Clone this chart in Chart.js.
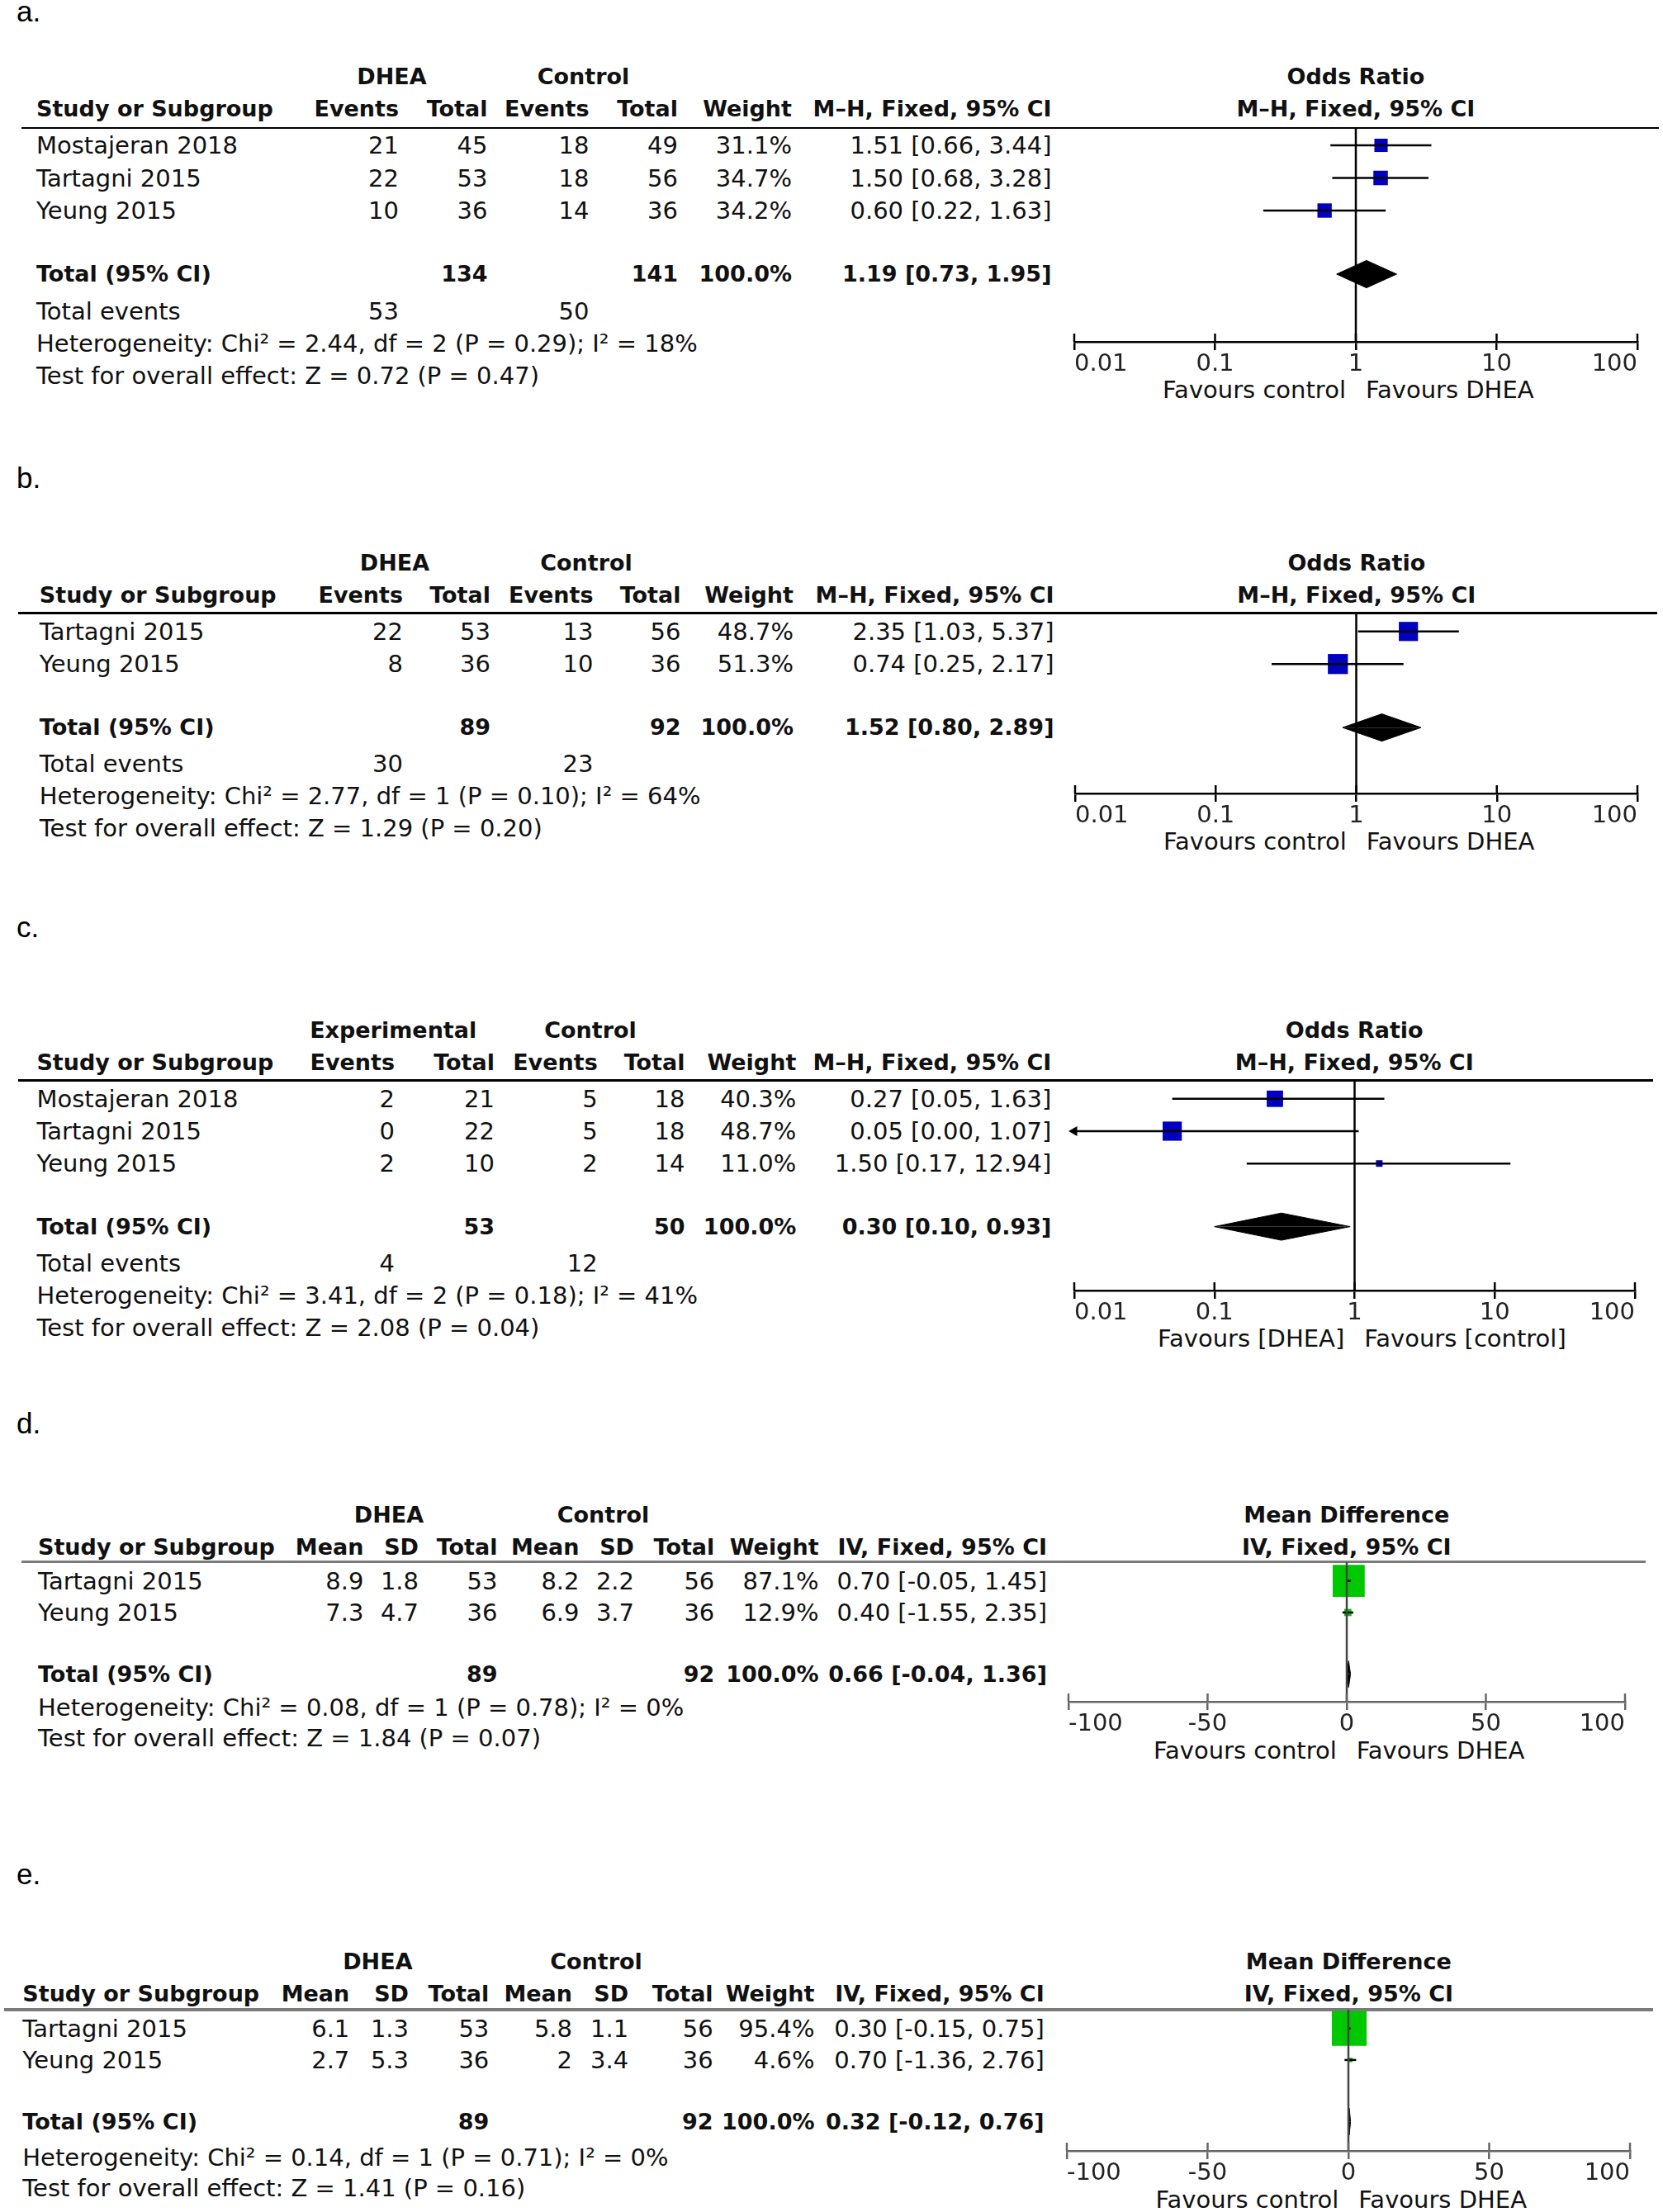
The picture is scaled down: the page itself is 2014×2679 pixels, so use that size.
<!DOCTYPE html>
<html>
<head>
<meta charset="utf-8">
<script src="https://cdn.jsdelivr.net/npm/chart.js@4.4.1/dist/chart.umd.min.js"></script>
<style>
html, body { margin: 0; padding: 0; background: #fff; }
#page { position: relative; width: 2014px; height: 2679px; overflow: hidden; font-family: 'DejaVu Sans', sans-serif; color: #111; }
.t { position: absolute; white-space: nowrap; line-height: 36px; height: 36px; font-size: 29px; }
.b { font-weight: bold; font-size: 27px; }
.lbl { font-family: 'Liberation Sans', Arial, sans-serif; font-size: 35px; color: #000; }
canvas { position: absolute; }
.rule { position: absolute; }
</style>
</head>
<body>
<div id="page"></div>
<script>
/* ---- a. DHEA vs control, odds ratio ---- */
const aStudies   = ['Mostajeran 2018', 'Tartagni 2015', 'Yeung 2015']
const aEvents1   = [21, 22, 10]
const aTotal1    = [45, 53, 36]
const aEvents2   = [18, 18, 14]
const aTotal2    = [49, 56, 36]
const aWeight    = [31.1, 34.7, 34.2]
const aEst       = [1.51, 1.50, 0.60]
const aLow       = [0.66, 0.68, 0.22]
const aHigh      = [3.44, 3.28, 1.63]
const aPooled    = [1.19, 0.73, 1.95]
const aSums      = [134, 141]
const aEventSums = [53, 50]
const aHet  = 'Heterogeneity: Chi² = 2.44, df = 2 (P = 0.29); I² = 18%'
const aTest = 'Test for overall effect: Z = 0.72 (P = 0.47)'

/* ---- b. ---- */
const bStudies   = ['Tartagni 2015', 'Yeung 2015']
const bEvents1   = [22, 8]
const bTotal1    = [53, 36]
const bEvents2   = [13, 10]
const bTotal2    = [56, 36]
const bWeight    = [48.7, 51.3]
const bEst       = [2.35, 0.74]
const bLow       = [1.03, 0.25]
const bHigh      = [5.37, 2.17]
const bPooled    = [1.52, 0.80, 2.89]
const bSums      = [89, 92]
const bEventSums = [30, 23]
const bHet  = 'Heterogeneity: Chi² = 2.77, df = 1 (P = 0.10); I² = 64%'
const bTest = 'Test for overall effect: Z = 1.29 (P = 0.20)'

/* ---- c. ---- */
const cStudies   = ['Mostajeran 2018', 'Tartagni 2015', 'Yeung 2015']
const cEvents1   = [2, 0, 2]
const cTotal1    = [21, 22, 10]
const cEvents2   = [5, 5, 2]
const cTotal2    = [18, 18, 14]
const cWeight    = [40.3, 48.7, 11.0]
const cEst       = [0.27, 0.05, 1.50]
const cLow       = [0.05, 0.00, 0.17]
const cHigh      = [1.63, 1.07, 12.94]
const cPooled    = [0.30, 0.10, 0.93]
const cSums      = [53, 50]
const cEventSums = [4, 12]
const cHet  = 'Heterogeneity: Chi² = 3.41, df = 2 (P = 0.18); I² = 41%'
const cTest = 'Test for overall effect: Z = 2.08 (P = 0.04)'

/* ---- d. mean difference ---- */
const dStudies = ['Tartagni 2015', 'Yeung 2015']
const dMean1   = [8.9, 7.3]
const dSd1     = [1.8, 4.7]
const dTotal1  = [53, 36]
const dMean2   = [8.2, 6.9]
const dSd2     = [2.2, 3.7]
const dTotal2  = [56, 36]
const dWeight  = [87.1, 12.9]
const dEst     = [0.70, 0.40]
const dLow     = [-0.05, -1.55]
const dHigh    = [1.45, 2.35]
const dPooled  = [0.66, -0.04, 1.36]
const dSums    = [89, 92]
const dHet  = 'Heterogeneity: Chi² = 0.08, df = 1 (P = 0.78); I² = 0%'
const dTest = 'Test for overall effect: Z = 1.84 (P = 0.07)'

/* ---- e. ---- */
const eStudies = ['Tartagni 2015', 'Yeung 2015']
const eMean1   = [6.1, 2.7]
const eSd1     = [1.3, 5.3]
const eTotal1  = [53, 36]
const eMean2   = [5.8, 2]
const eSd2     = [1.1, 3.4]
const eTotal2  = [56, 36]
const eWeight  = [95.4, 4.6]
const eEst     = [0.30, 0.70]
const eLow     = [-0.15, -1.36]
const eHigh    = [0.75, 2.76]
const ePooled  = [0.32, -0.12, 0.76]
const eSums    = [89, 92]
const eHet  = 'Heterogeneity: Chi² = 0.14, df = 1 (P = 0.71); I² = 0%'
const eTest = 'Test for overall effect: Z = 1.41 (P = 0.16)'

const orTicks = [0.01, 0.1, 1, 10, 100]
const mdTicks = [-100, -50, 0, 50, 100]
const orHeads = ['Events', 'Total', 'Events', 'Total', 'Weight', 'M–H, Fixed, 95% CI']
const mdHeads = ['Mean', 'SD', 'Total', 'Mean', 'SD', 'Total', 'Weight', 'IV, Fixed, 95% CI']


const W = 2014
const page = document.getElementById('page')

const put = (x, y, s, align, cls) => {
	const d = document.createElement('div')
	d.className = 't ' + (cls || '')
	d.textContent = s
	d.style.top = (y - 18) + 'px'
	if (align == 'r') d.style.right = (W - x) + 'px'
	else if (align == 'c') {
		d.style.left = (x - 400) + 'px'
		d.style.width = '800px'
		d.style.textAlign = 'center'
	}
	else d.style.left = x + 'px'
	page.appendChild(d)
}

const hline = (x0, x1, y, w, color) => {
	const d = document.createElement('div')
	d.className = 'rule'
	d.style.left = x0 + 'px'
	d.style.width = (x1 - x0) + 'px'
	d.style.top = (y - w / 2) + 'px'
	d.style.height = w + 'px'
	d.style.background = color
	page.appendChild(d)
}

const ci = (e, l, h) => e.toFixed(2) + ' [' + l.toFixed(2) + ', ' + h.toFixed(2) + ']'

/* ticks going up from the axis line (chart.js only draws them downwards) */
const tickUp = {
	id: 'tickUp',
	afterDraw(chart, args, opts) {
		const sx = chart.scales.x
		const ctx = chart.ctx
		const b = chart.chartArea.bottom
		ctx.save()
		ctx.strokeStyle = opts.color
		ctx.lineWidth = 2.5
		sx.ticks.forEach(t => {
			const x = sx.getPixelForValue(t.value)
			ctx.beginPath()
			ctx.moveTo(x, b - 10)
			ctx.lineTo(x, b)
			ctx.stroke()
		})
		ctx.restore()
	}
}

const forest = (p) => {
	const n = p.est.length
	const padX = 50, H = 70
	const cv = document.createElement('canvas')
	cv.width = p.x1 - p.x0 + 2 * padX
	cv.height = p.axisY - p.ruleY + H
	cv.style.left = (p.x0 - padX) + 'px'
	cv.style.top = p.ruleY + 'px'
	page.appendChild(cv)

	const yMin = -(p.row0 - p.ruleY) / p.pitch
	const yMax = (p.axisY - p.row0) / p.pitch
	const xMin = p.ticks[0], xMax = p.ticks[p.ticks.length - 1]
	const ref = p.log ? 1 : 0
	const ty = n + 0.95
	const dh = 0.42

	const datasets = []
	datasets.push({
		data: [{ x: ref, y: yMin }, { x: ref, y: yMax }],
		borderColor: p.refColor, borderWidth: 2.5, showLine: true, pointRadius: 0
	})
	p.est.forEach((v, i) => {
		const lo = Math.max(p.low[i], xMin)
		datasets.push({
			data: [{ x: lo, y: i }, { x: p.high[i], y: i }],
			borderColor: '#000', borderWidth: 2.5, showLine: true, pointRadius: 0
		})
		if (p.low[i] < xMin) datasets.push({
			data: [{ x: xMin, y: i }],
			pointStyle: 'triangle', pointRotation: 270, pointRadius: 7,
			backgroundColor: '#000', borderWidth: 0, clip: false
		})
	})
	datasets.push({
		data: p.est.map((v, i) => ({ x: v, y: i })),
		pointStyle: 'rect',
		pointRadius: p.weight.map(w => (3.5 + 0.405 * w) / Math.SQRT2),
		backgroundColor: p.color, borderWidth: 0, clip: false
	})
	// pooled diamond, as two filled halves
	const [pe, pl, ph] = p.pooled
	for (const s of [-1, 1]) datasets.push({
		data: [{ x: pl, y: ty }, { x: pe, y: ty + s * dh }, { x: ph, y: ty }],
		showLine: true, borderColor: '#000', borderWidth: 1, pointRadius: 0,
		fill: { value: ty }, backgroundColor: '#000', tension: 0
	})

	new Chart(cv.getContext('2d'), {
		type: 'scatter',
		data: { datasets: datasets },
		plugins: [tickUp],
		options: {
			responsive: false,
			animation: false,
			devicePixelRatio: 1,
			layout: { autoPadding: false, padding: { left: padX, right: padX, top: 0, bottom: 0 } },
			plugins: { legend: { display: false }, tooltip: { enabled: false }, tickUp: { color: p.axisColor } },
			scales: {
				x: {
					type: p.log ? 'logarithmic' : 'linear',
					min: xMin, max: xMax,
					afterBuildTicks: s => { s.ticks = p.ticks.map(v => ({ value: v })) },
					afterFit: s => { s.height = H },
					border: { display: true, color: p.axisColor, width: 2.5 },
					grid: { drawOnChartArea: false, drawTicks: true, tickLength: 10, color: p.axisColor, lineWidth: 2.5 },
					ticks: {
						align: 'inner', padding: 0, maxRotation: 0, autoSkip: false,
						color: '#222', font: { family: 'DejaVu Sans', size: 29 },
						callback: v => String(v)
					}
				},
				y: { type: 'linear', reverse: true, min: yMin, max: yMax, bounds: 'data', display: false }
			}
		}
	})
}

const drawPanel = (p) => {
	const mid = (p.x0 + p.x1) / 2
	const n = p.studies.length
	put(20, p.labelY, p.letter, 'l', 'lbl')

	p.groups.forEach((g, i) => put(p.groupX[i], p.h1, g, 'c', 'b'))
	put(mid, p.h1, p.measure, 'c', 'b')
	put(p.studyX, p.h2, 'Study or Subgroup', 'l', 'b')
	p.heads.forEach((h, i) => put(p.colX[i], p.h2, h, 'r', 'b'))
	put(mid, p.h2, p.method, 'c', 'b')
	hline(p.ruleX[0], p.ruleX[1], p.ruleY, p.ruleW, p.ruleColor)

	p.studies.forEach((s, r) => {
		const y = p.row0 + r * p.pitch
		put(p.studyX, y, s, 'l')
		p.cells[r].forEach((c, i) => put(p.colX[i], y, c, 'r'))
	})

	const ty = p.row0 + (n + 0.95) * p.pitch
	put(p.studyX, ty, 'Total (95% CI)', 'l', 'b')
	p.totalCells.forEach(([i, s]) => put(p.colX[i], ty, s, 'r', 'b'))

	let fy = ty + p.foot0
	if (p.eventSums) {
		put(p.studyX, fy, 'Total events', 'l')
		put(p.colX[0], fy, String(p.eventSums[0]), 'r')
		put(p.colX[2], fy, String(p.eventSums[1]), 'r')
		fy += p.footPitch
	}
	put(p.studyX, fy, p.het, 'l')
	put(p.studyX, fy + p.footPitch, p.test, 'l')

	put(mid - 12, p.axisY + 58, p.favours[0], 'r')
	put(mid + 12, p.axisY + 58, p.favours[1], 'l')

	forest(Object.assign({}, p))
}

const orCells = (e1, t1, e2, t2, w, est, lo, hi) =>
	e1.map((v, i) => [v, t1[i], e2[i], t2[i], w[i].toFixed(1) + '%', ci(est[i], lo[i], hi[i])].map(String))
const mdCells = (m1, s1, t1, m2, s2, t2, w, est, lo, hi) =>
	m1.map((v, i) => [v, s1[i], t1[i], m2[i], s2[i], t2[i], w[i].toFixed(1) + '%', ci(est[i], lo[i], hi[i])].map(String))

const orStyle = { log: true, ticks: orTicks, heads: orHeads, measure: 'Odds Ratio', method: 'M–H, Fixed, 95% CI',
	color: '#0000c0', refColor: '#000', axisColor: '#000', ruleColor: '#000', ruleW: 2.5 }
const mdStyle = { log: false, ticks: mdTicks, heads: mdHeads, measure: 'Mean Difference', method: 'IV, Fixed, 95% CI',
	color: '#00c800', refColor: '#444', axisColor: '#666', ruleColor: '#7a7a7a', ruleW: 3.5 }

drawPanel(Object.assign({}, orStyle, {
	letter: 'a.', labelY: 14, h1: 93, h2: 132, ruleY: 155, ruleX: [26, 2009], row0: 176, pitch: 39.5,
	foot0: 45, footPitch: 39, axisY: 414, x0: 1300.6, x1: 1983.3, studyX: 44,
	colX: [483, 590.5, 713.5, 821, 959, 1273.5], groupX: [474.5, 706.5, 1114.5],
	groups: ['DHEA', 'Control'], favours: ['Favours control', 'Favours DHEA'],
	studies: aStudies, cells: orCells(aEvents1, aTotal1, aEvents2, aTotal2, aWeight, aEst, aLow, aHigh),
	totalCells: [[1, String(aSums[0])], [3, String(aSums[1])], [4, '100.0%'], [5, ci(...aPooled)]],
	eventSums: aEventSums, het: aHet, test: aTest,
	est: aEst, low: aLow, high: aHigh, weight: aWeight, pooled: aPooled
}))

drawPanel(Object.assign({}, orStyle, {
	letter: 'b.', labelY: 579, h1: 682, h2: 721, ruleY: 742.7, ruleX: [22, 2007], row0: 764.5, pitch: 39.5,
	foot0: 44, footPitch: 39, axisY: 961, x0: 1302.3, x1: 1983.3, studyX: 47.8,
	colX: [488, 594, 718.5, 824.5, 961, 1276.5], groupX: [478, 710, 1118],
	groups: ['DHEA', 'Control'], favours: ['Favours control', 'Favours DHEA'],
	studies: bStudies, cells: orCells(bEvents1, bTotal1, bEvents2, bTotal2, bWeight, bEst, bLow, bHigh),
	totalCells: [[1, String(bSums[0])], [3, String(bSums[1])], [4, '100.0%'], [5, ci(...bPooled)]],
	eventSums: bEventSums, het: bHet, test: bTest,
	est: bEst, low: bLow, high: bHigh, weight: bWeight, pooled: bPooled
}))

drawPanel(Object.assign({}, orStyle, {
	letter: 'c.', labelY: 1123, h1: 1248.3, h2: 1286.7, ruleY: 1308.7, ruleX: [22, 2002], row0: 1330.5, pitch: 39.3,
	foot0: 44, footPitch: 39.2, axisY: 1563.3, x0: 1300.6, x1: 1979.9, studyX: 44.4,
	colX: [478, 599, 723.7, 829.5, 964.3, 1273.3], groupX: [476.2, 715, 1116],
	groups: ['Experimental', 'Control'], favours: ['Favours [DHEA]', 'Favours [control]'],
	studies: cStudies, cells: orCells(cEvents1, cTotal1, cEvents2, cTotal2, cWeight, cEst, cLow, cHigh),
	totalCells: [[1, String(cSums[0])], [3, String(cSums[1])], [4, '100.0%'], [5, ci(...cPooled)]],
	eventSums: cEventSums, het: cHet, test: cTest,
	est: cEst, low: cLow, high: cHigh, weight: cWeight, pooled: cPooled
}))

drawPanel(Object.assign({}, mdStyle, {
	letter: 'd.', labelY: 1724, h1: 1835, h2: 1873.5, ruleY: 1891.7, ruleX: [25.6, 1993.5], row0: 1914.5, pitch: 38.5,
	foot0: 40, footPitch: 37, axisY: 2061.7, x0: 1293.7, x1: 1967.9, studyX: 46,
	colX: [440.4, 507, 602.5, 701.5, 768, 865.3, 991.6, 1268], groupX: [471, 730.5, 1130],
	groups: ['DHEA', 'Control'], favours: ['Favours control', 'Favours DHEA'],
	studies: dStudies, cells: mdCells(dMean1, dSd1, dTotal1, dMean2, dSd2, dTotal2, dWeight, dEst, dLow, dHigh),
	totalCells: [[2, String(dSums[0])], [5, String(dSums[1])], [6, '100.0%'], [7, ci(...dPooled)]],
	eventSums: null, het: dHet, test: dTest,
	est: dEst, low: dLow, high: dHigh, weight: dWeight, pooled: dPooled
}))

drawPanel(Object.assign({}, mdStyle, {
	letter: 'e.', labelY: 2270, h1: 2375.8, h2: 2414.5, ruleY: 2433.8, ruleX: [5, 2002], row0: 2456.5, pitch: 38.5,
	foot0: 43, footPitch: 37, axisY: 2605.7, x0: 1292, x1: 1974.7, studyX: 27.3,
	colX: [423.3, 495, 592.3, 693, 761.2, 863.6, 986.5, 1264.7], groupX: [457.4, 722, 1123],
	groups: ['DHEA', 'Control'], favours: ['Favours control', 'Favours DHEA'],
	studies: eStudies, cells: mdCells(eMean1, eSd1, eTotal1, eMean2, eSd2, eTotal2, eWeight, eEst, eLow, eHigh),
	totalCells: [[2, String(eSums[0])], [5, String(eSums[1])], [6, '100.0%'], [7, ci(...ePooled)]],
	eventSums: null, het: eHet, test: eTest,
	est: eEst, low: eLow, high: eHigh, weight: eWeight, pooled: ePooled
}))
</script>
</body>
</html>
